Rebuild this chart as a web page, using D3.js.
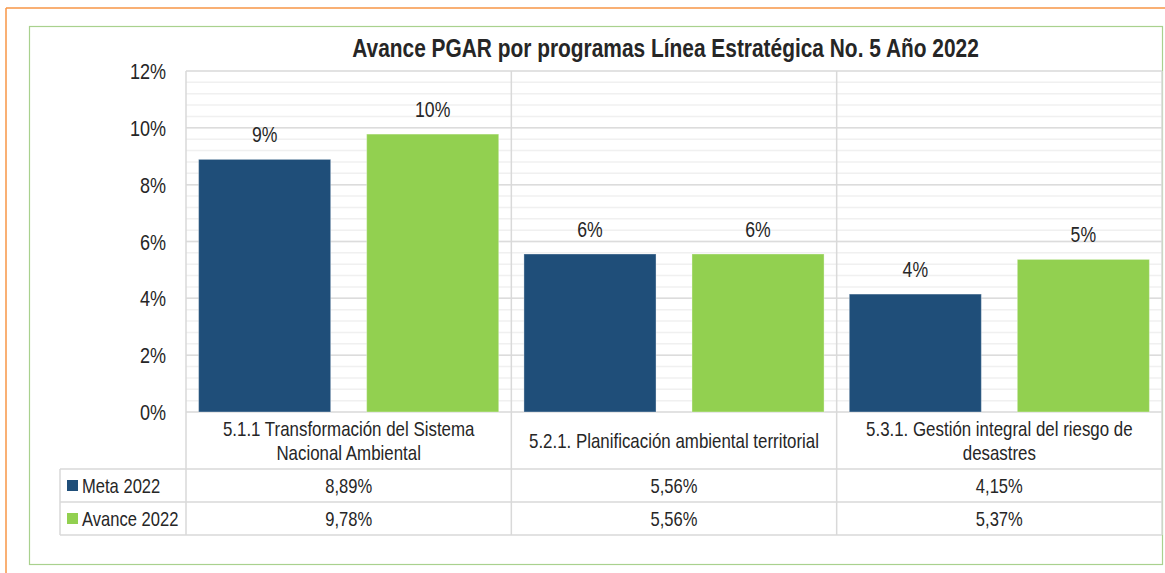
<!DOCTYPE html>
<html>
<head>
<meta charset="utf-8">
<script src="https://cdn.jsdelivr.net/npm/d3@7"></script>
<style>
  html, body { margin: 0; padding: 0; background: #ffffff; }
  svg { display: block; }
</style>
</head>
<body>
<svg id="chart" width="1165" height="573"></svg>
<script>
// ---------- DATA ----------
const title = "Avance PGAR por programas Línea Estratégica No. 5 Año 2022";
const categories = [
  "5.1.1 Transformación del Sistema\nNacional Ambiental",
  "5.2.1. Planificación ambiental territorial",
  "5.3.1. Gestión integral del riesgo de\ndesastres"
];
const seriesNames = ["Meta 2022", "Avance 2022"];
const metaValues = [0.0889, 0.0556, 0.0415];
const avanceValues = [0.0978, 0.0556, 0.0537];
const yTickValues = [0, 0.02, 0.04, 0.06, 0.08, 0.10, 0.12];
const seriesColors = ["#1F4E79", "#92D050"];

// ---------- FONT ----------
function fontAvailable(name) {
  const c = document.createElement("canvas").getContext("2d");
  const s = "abcdefghijklmnopqrstuvwxyz0123456789%";
  c.font = "40px monospace"; const w0 = c.measureText(s).width;
  c.font = "40px '" + name + "', monospace"; const w1 = c.measureText(s).width;
  return Math.abs(w0 - w1) > 0.5;
}
const narrow = fontAvailable("Liberation Sans Narrow");
const FONT = narrow ? "'Liberation Sans Narrow', 'Arial Narrow', sans-serif" : "'Liberation Sans', Arial, sans-serif";
const SX = narrow ? 1 : 0.82;
const TEXT = "#262626";

const svg = d3.select("#chart");
function put(sel, x, y) {
  return sel.attr("transform", `translate(${x},${y}) scale(${SX},1)`);
}

// ---------- LAYOUT ----------
const plotLeft = 186, plotRight = 1162, plotTop = 71, plotBottom = 412;
const catRowBottom = 469, row1Bottom = 502, row2Bottom = 535, legendLeft = 60;

// borders
svg.append("line").attr("x1", 6).attr("x2", 1165).attr("y1", 8).attr("y2", 8)
  .attr("stroke", "#F79646").attr("stroke-width", 1.5);
svg.append("line").attr("x1", 6).attr("x2", 6).attr("y1", 8).attr("y2", 573)
  .attr("stroke", "#F79646").attr("stroke-width", 1.5);
svg.append("rect").attr("x", 29.5).attr("y", 26.5).attr("width", 1133).attr("height", 538)
  .attr("fill", "none").attr("stroke", "#A9D18E").attr("stroke-width", 1.2);

// ---------- SCALES ----------
const y = d3.scaleLinear().domain([0, 0.12]).range([plotBottom, plotTop]);
const x0 = d3.scaleBand().domain(categories).range([plotLeft, plotRight]).paddingInner(0).paddingOuter(0);
const x1 = d3.scaleBand().domain(seriesNames).range([0, x0.bandwidth()]).paddingInner(0.214).paddingOuter(0.075);

// minor gridlines
const minorTicks = d3.range(0, 0.12001, 0.004);
svg.append("g").selectAll("line").data(minorTicks).join("line")
  .attr("x1", plotLeft).attr("x2", plotRight)
  .attr("y1", d => y(d)).attr("y2", d => y(d))
  .attr("stroke", "#f0f0f0").attr("stroke-width", 1.5);
// major gridlines
svg.append("g").selectAll("line").data(yTickValues).join("line")
  .attr("x1", plotLeft).attr("x2", plotRight)
  .attr("y1", d => y(d)).attr("y2", d => y(d))
  .attr("stroke", "#dcdcdc").attr("stroke-width", 1.5);

// table lines
const grid = svg.append("g").attr("stroke", "#d9d9d9").attr("stroke-width", 1.5);
[catRowBottom, row1Bottom, row2Bottom].forEach(yy => {
  grid.append("line").attr("x1", legendLeft).attr("x2", plotRight).attr("y1", yy).attr("y2", yy);
});
grid.append("line").attr("x1", legendLeft).attr("x2", legendLeft).attr("y1", catRowBottom).attr("y2", row2Bottom);
categories.forEach(c => {
  grid.append("line").attr("x1", x0(c)).attr("x2", x0(c)).attr("y1", plotTop).attr("y2", row2Bottom);
});
grid.append("line").attr("x1", plotRight).attr("x2", plotRight).attr("y1", plotTop).attr("y2", row2Bottom);

// ---------- BARS ----------
const seriesData = [metaValues, avanceValues];
const groups = svg.append("g").selectAll("g").data(categories).join("g")
  .attr("transform", d => `translate(${x0(d)},0)`);
groups.selectAll("rect")
  .data((c, i) => seriesNames.map((s, j) => ({ s, v: seriesData[j][i], color: seriesColors[j] })))
  .join("rect")
  .attr("x", d => x1(d.s)).attr("width", x1.bandwidth())
  .attr("y", d => y(d.v)).attr("height", d => plotBottom - y(d.v))
  .attr("fill", d => d.color)
  .attr("stroke", "rgba(255,255,255,0.35)").attr("stroke-width", 1);

// data labels
const pct0 = d3.format(".0%");
groups.selectAll("text.lbl")
  .data((c, i) => seriesNames.map((s, j) => ({ s, v: seriesData[j][i] })))
  .join("text").attr("class", "lbl")
  .each(function (d) { put(d3.select(this), x1(d.s) + x1.bandwidth() / 2, y(d.v) - 17); })
  .attr("text-anchor", "middle")
  .attr("font-family", FONT).attr("font-size", 21.5).attr("fill", TEXT)
  .text(d => pct0(d.v));

// ---------- Y AXIS ----------
const yAxis = d3.axisLeft(y).tickValues(yTickValues).tickFormat(d3.format(".0%")).tickSize(0).tickPadding(20);
const ag = svg.append("g").attr("transform", `translate(${plotLeft},0)`).call(yAxis);
ag.select(".domain").remove();
ag.selectAll("text")
  .attr("font-family", FONT).attr("font-size", 22).attr("fill", TEXT)
  .attr("x", null).attr("dy", null)
  .attr("dominant-baseline", "central")
  .attr("transform", `translate(-20,0) scale(${SX},1)`);

// ---------- CATEGORY LABELS ----------
const catRowMid = (plotBottom + catRowBottom) / 2;
categories.forEach(c => {
  const lines = c.split("\n");
  const lh = 24;
  lines.forEach((ln, k) => {
    const t = svg.append("text")
      .attr("text-anchor", "middle").attr("dominant-baseline", "central")
      .attr("font-family", FONT).attr("font-size", 20.6).attr("fill", TEXT)
      .text(ln);
    put(t, x0(c) + x0.bandwidth() / 2, catRowMid + (k - (lines.length - 1) / 2) * lh);
  });
});

// ---------- DATA TABLE ----------
const loc = d3.formatLocale({ decimal: ",", thousands: ".", grouping: [3], currency: ["$", ""] });
const pct2 = loc.format(".2%");
const rowMids = [(catRowBottom + row1Bottom) / 2, (row1Bottom + row2Bottom) / 2];
seriesNames.forEach((s, j) => {
  const ym = rowMids[j];
  svg.append("rect").attr("x", 67).attr("y", ym - 5.5).attr("width", 11).attr("height", 11)
    .attr("fill", seriesColors[j]);
  const t = svg.append("text").attr("dominant-baseline", "central")
    .attr("font-family", FONT).attr("font-size", 20.2).attr("fill", TEXT).text(s);
  put(t, 82, ym);
  categories.forEach((c, i) => {
    const tv = svg.append("text").attr("text-anchor", "middle").attr("dominant-baseline", "central")
      .attr("font-family", FONT).attr("font-size", 20.2).attr("fill", TEXT)
      .text(pct2(seriesData[j][i]));
    put(tv, x0(c) + x0.bandwidth() / 2, ym);
  });
});

// ---------- TITLE ----------
const tt = svg.append("text").attr("text-anchor", "middle")
  .attr("font-family", FONT).attr("font-weight", "bold").attr("font-size", 25.5).attr("fill", TEXT)
  .text(title);
put(tt, 665.5, 57);
</script>
</body>
</html>
